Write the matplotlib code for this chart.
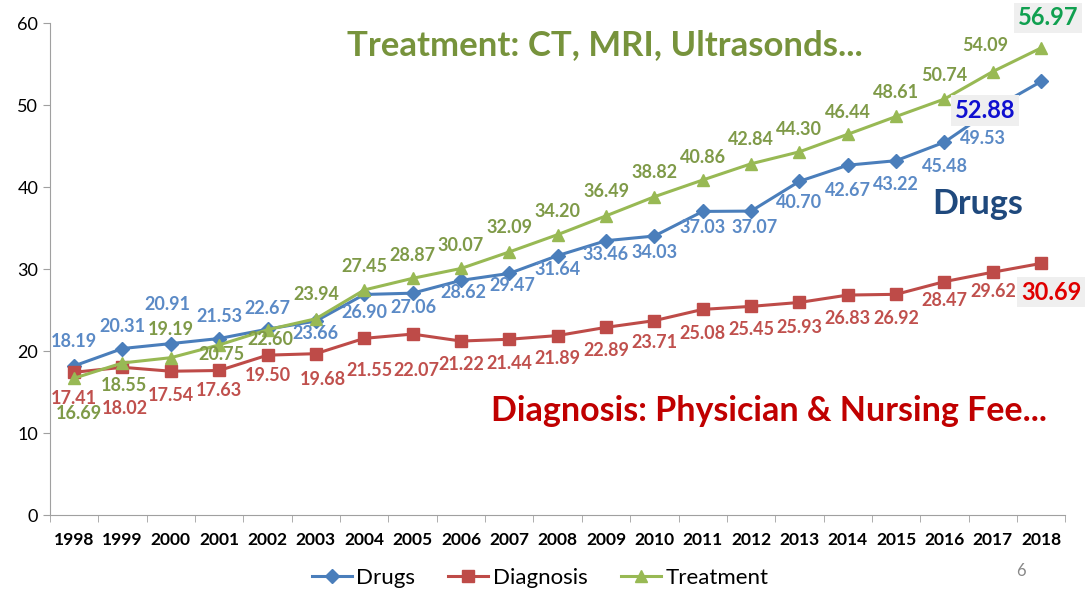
import matplotlib
matplotlib.use("Agg")
import matplotlib.pyplot as plt
import numpy as np

plt.rcParams['font.family'] = ['Lato', 'DejaVu Sans']

years = [str(y) for y in range(1998, 2019)]
drugs = [18.19, 20.31, 20.91, 21.53, 22.67, 23.66, 26.90, 27.06, 28.62, 29.47, 31.64,
         33.46, 34.03, 37.03, 37.07, 40.70, 42.67, 43.22, 45.48, 49.53, 52.88]
diagnosis = [17.41, 18.02, 17.54, 17.63, 19.50, 19.68, 21.55, 22.07, 21.22, 21.44, 21.89,
             22.89, 23.71, 25.08, 25.45, 25.93, 26.83, 26.92, 28.47, 29.62, 30.69]
treatment = [16.69, 18.55, 19.19, 20.75, 22.60, 23.94, 27.45, 28.87, 30.07, 32.09, 34.20,
             36.49, 38.82, 40.86, 42.84, 44.30, 46.44, 48.61, 50.74, 54.09, 56.97]

# label offsets in pixels (dx, dy), last point handled separately
drugs_off = [(0, 24), (0, 22), (-3, 39), (0, 22), (0, 21), (0, -12), (0, -18), (1, -14),
             (2, -12), (3, -12), (0, -14), (0, -14), (0, -16), (0, -16), (4, -16),
             (0, -21), (0, -25), (0, -24), (0, -24), (-10, -30)]
diag_off = [(0, -26), (2, -41), (0, -24), (0, -20), (0, -20), (7, -26), (5, -32),
            (4, -36), (0, -23), (0, -24), (0, -23), (0, -23), (0, -22), (0, -24),
            (0, -23), (0, -25), (0, -23), (0, -24), (0, -19), (0, -19)]
treat_off = [(5, -35), (1, -23), (0, 28), (2, -10), (3, -10), (0, 24), (0, 23), (0, 23),
             (0, 23), (0, 24), (0, 23), (0, 24), (0, 24), (0, 23), (0, 24), (0, 22),
             (0, 22), (0, 24), (0, 24), (-8, 26)]

fig = plt.figure(figsize=(10.86, 5.92), dpi=100)
ax = fig.add_axes([0.046, 0.130, 0.935, 0.831])
x = np.arange(len(years))

c_dr, c_di, c_tr = '#4a7ebb', '#be4b48', '#98b954'
ax.plot(x, drugs, color=c_dr, lw=2.2, marker='D', ms=7, label='Drugs')
ax.plot(x, diagnosis, color=c_di, lw=2.2, marker='s', ms=9, label='Diagnosis')
ax.plot(x, treatment, color=c_tr, lw=2.2, marker='^', ms=9, label='Treatment')

lab = dict(fontsize=13, fontweight='bold', ha='center', va='center',
           textcoords='offset pixels')
for vals, offs, col in [(drugs, drugs_off, '#5b8ac6'), (diagnosis, diag_off, '#c0504d'),
                        (treatment, treat_off, '#7f9a48')]:
    for i, (v, o) in enumerate(zip(vals[:-1], offs)):
        ax.annotate(f'{v:.2f}', (x[i], v), xytext=o, color=col, **lab)

box = dict(boxstyle='square,pad=0.15', fc='#efefef', ec='none')
ax.annotate(f'{drugs[-1]:.2f}', (x[-1], drugs[-1]), xytext=(-56, -29), textcoords='offset pixels',
            ha='center', va='center', fontsize=17, fontweight='bold', color='#1010d0', bbox=box)
ax.annotate(f'{diagnosis[-1]:.2f}', (x[-1], diagnosis[-1]), xytext=(10, -29),
            textcoords='offset pixels', ha='center', va='center', fontsize=17,
            fontweight='bold', color='#e00000', bbox=box)
ax.annotate(f'{treatment[-1]:.2f}', (x[-1], treatment[-1]), xytext=(7, 30),
            textcoords='offset pixels', ha='center', va='center', fontsize=17,
            fontweight='bold', color='#10a050', bbox=box)

fig.text(605 / 1086, 1 - 45 / 592, 'Treatment: CT, MRI, Ultrasonds...', ha='center',
         va='center', fontsize=25, fontweight='bold', color='#77933c')
fig.text(978 / 1086, 1 - 204 / 592, 'Drugs', ha='center', va='center', fontsize=24.5,
         fontweight='bold', color='#1f497d')
fig.text(769 / 1086, 1 - 411 / 592, 'Diagnosis: Physician & Nursing Fee...', ha='center',
         va='center', fontsize=24.5, fontweight='bold', color='#c00000')
fig.text(1021 / 1086, 1 - 571 / 592, '6', ha='center', va='center', fontsize=12,
         color='#888888')

ax.set_xlim(-0.5, len(years) - 0.5)
ax.set_ylim(0, 60)
ax.set_yticks(range(0, 61, 10))
ax.set_xticks(x)
ax.set_xticklabels(years, fontsize=12.5, fontweight='bold')
ax.set_xticks(np.arange(-0.5, len(years), 1), minor=True)
ax.tick_params(axis='x', which='major', length=0, pad=12)
ax.tick_params(axis='x', which='minor', length=5, color='#a0a0a0')
ax.tick_params(axis='y', length=5, color='#a0a0a0', labelsize=13)
for s in ['top', 'right']:
    ax.spines[s].set_visible(False)
for s in ['left', 'bottom']:
    ax.spines[s].set_color('#a0a0a0')

fig.legend(loc='center', bbox_to_anchor=(540 / 1086, 1 - 578 / 592), ncol=3, frameon=False,
           fontsize=16, handlelength=1.8, handletextpad=0.2, columnspacing=1.5)

fig.savefig('out.png', dpi=100)
